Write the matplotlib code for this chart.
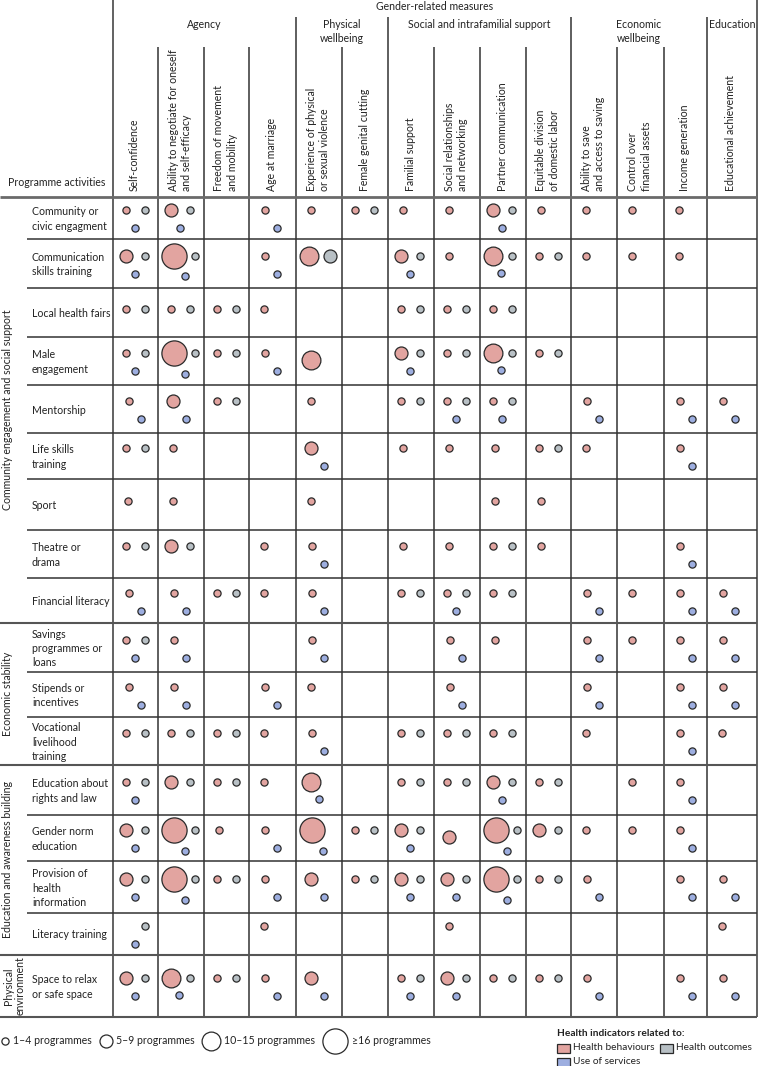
import matplotlib
matplotlib.use('Agg')
import matplotlib.pyplot as plt
from matplotlib.patches import Rectangle

plt.rcParams['font.family'] = ['Lato', 'DejaVu Sans']

# ------------------------------------------------------------------
# Data: size level per cell (0 none, 1 = 1-4, 2 = 5-9, 3 = 10-15, 4 = >=16)
# ------------------------------------------------------------------
MEASURES = [
    'Self-confidence',
    'Ability to negotiate for oneself\nand self-efficacy',
    'Freedom of movement\nand mobility',
    'Age at marriage',
    'Experience of physical\nor sexual violence',
    'Female genital cutting',
    'Familial support',
    'Social relationships\nand networking',
    'Partner communication',
    'Equitable division\nof domestic labor',
    'Ability to save\nand access to saving',
    'Control over\nfinancial assets',
    'Income generation',
    'Educational achievement',
]
MEASURE_GROUPS = ['Agency', 'Physical\nwellbeing', 'Social and intrafamilial support',
                  'Economic\nwellbeing', 'Education']
MEASURE_GROUP_SIZES = [4, 2, 4, 3, 1]

ACTIVITIES = [
    'Community or\ncivic engagment',
    'Communication\nskills training',
    'Local health fairs',
    'Male\nengagement',
    'Mentorship',
    'Life skills\ntraining',
    'Sport',
    'Theatre or\ndrama',
    'Financial literacy',
    'Savings\nprogrammes or\nloans',
    'Stipends or\nincentives',
    'Vocational\nlivelihood\ntraining',
    'Education about\nrights and law',
    'Gender norm\neducation',
    'Provision of\nhealth\ninformation',
    'Literacy training',
    'Space to relax\nor safe space',
]
ACTIVITY_GROUPS = ['Community engagement and social support', 'Economic stability',
                   'Education and awareness building', 'Physical\nenvironment']
ACTIVITY_GROUP_SIZES = [9, 3, 4, 1]

# Health behaviours
BEHAVIOURS = [
    [1, 2, 0, 1, 1, 1, 1, 1, 2, 1, 1, 1, 1, 0],
    [2, 4, 0, 1, 3, 0, 2, 1, 3, 1, 1, 1, 1, 0],
    [1, 1, 1, 1, 0, 0, 1, 1, 1, 0, 0, 0, 0, 0],
    [1, 4, 1, 1, 3, 0, 2, 1, 3, 1, 0, 0, 0, 0],
    [1, 2, 1, 0, 1, 0, 1, 1, 1, 0, 1, 0, 1, 1],
    [1, 1, 0, 0, 2, 0, 1, 1, 1, 1, 1, 0, 1, 0],
    [1, 1, 0, 0, 1, 0, 0, 0, 1, 1, 0, 0, 0, 0],
    [1, 2, 0, 1, 1, 0, 1, 1, 1, 1, 0, 0, 1, 0],
    [1, 1, 1, 1, 1, 0, 1, 1, 1, 0, 1, 1, 1, 1],
    [1, 1, 0, 0, 1, 0, 0, 1, 1, 0, 1, 1, 1, 1],
    [1, 1, 0, 1, 1, 0, 0, 1, 0, 0, 1, 0, 1, 1],
    [1, 1, 1, 1, 1, 0, 1, 1, 1, 0, 1, 0, 1, 1],
    [1, 2, 1, 1, 3, 0, 1, 1, 2, 1, 0, 1, 1, 0],
    [2, 4, 1, 1, 4, 1, 2, 2, 4, 2, 1, 1, 1, 0],
    [2, 4, 1, 1, 2, 1, 2, 2, 4, 1, 1, 0, 1, 1],
    [0, 0, 0, 1, 0, 0, 0, 1, 0, 0, 0, 0, 0, 1],
    [2, 3, 1, 1, 2, 0, 1, 2, 1, 1, 1, 0, 1, 1],
]
# Health outcomes
OUTCOMES = [
    [1, 1, 0, 0, 0, 1, 0, 0, 1, 0, 0, 0, 0, 0],
    [1, 1, 0, 0, 2, 0, 1, 0, 1, 1, 0, 0, 0, 0],
    [1, 1, 1, 0, 0, 0, 1, 1, 1, 0, 0, 0, 0, 0],
    [1, 1, 1, 0, 0, 0, 1, 1, 1, 1, 0, 0, 0, 0],
    [0, 0, 1, 0, 0, 0, 1, 1, 1, 0, 0, 0, 0, 0],
    [1, 0, 0, 0, 0, 0, 0, 0, 0, 1, 0, 0, 0, 0],
    [0, 0, 0, 0, 0, 0, 0, 0, 0, 0, 0, 0, 0, 0],
    [1, 1, 0, 0, 0, 0, 0, 0, 1, 0, 0, 0, 0, 0],
    [0, 0, 1, 0, 0, 0, 1, 1, 1, 0, 0, 0, 0, 0],
    [1, 0, 0, 0, 0, 0, 0, 0, 0, 0, 0, 0, 0, 0],
    [0, 0, 0, 0, 0, 0, 0, 0, 0, 0, 0, 0, 0, 0],
    [1, 1, 1, 0, 0, 0, 1, 1, 1, 0, 0, 0, 0, 0],
    [1, 1, 1, 0, 0, 0, 1, 1, 1, 1, 0, 0, 0, 0],
    [1, 1, 0, 0, 0, 1, 1, 0, 1, 1, 0, 0, 0, 0],
    [1, 1, 1, 0, 0, 1, 1, 1, 1, 1, 0, 0, 0, 0],
    [1, 0, 0, 0, 0, 0, 0, 0, 0, 0, 0, 0, 0, 0],
    [1, 1, 1, 0, 0, 0, 1, 1, 1, 1, 0, 0, 0, 0],
]
# Use of services
SERVICES = [
    [1, 1, 0, 1, 0, 0, 0, 0, 1, 0, 0, 0, 0, 0],
    [1, 1, 0, 1, 0, 0, 1, 0, 1, 0, 0, 0, 0, 0],
    [0, 0, 0, 0, 0, 0, 0, 0, 0, 0, 0, 0, 0, 0],
    [1, 1, 0, 1, 0, 0, 1, 0, 1, 0, 0, 0, 0, 0],
    [1, 1, 0, 0, 0, 0, 0, 1, 1, 0, 1, 0, 1, 1],
    [0, 0, 0, 0, 1, 0, 0, 0, 0, 0, 0, 0, 1, 0],
    [0, 0, 0, 0, 0, 0, 0, 0, 0, 0, 0, 0, 0, 0],
    [0, 0, 0, 0, 1, 0, 0, 0, 0, 0, 0, 0, 1, 0],
    [1, 1, 0, 0, 1, 0, 0, 1, 0, 0, 1, 0, 1, 1],
    [1, 1, 0, 0, 1, 0, 0, 1, 0, 0, 1, 0, 1, 1],
    [1, 1, 0, 1, 0, 0, 0, 1, 0, 0, 1, 0, 1, 1],
    [0, 0, 0, 0, 1, 0, 0, 0, 0, 0, 0, 0, 1, 0],
    [1, 0, 0, 0, 1, 0, 0, 0, 1, 0, 0, 0, 1, 0],
    [1, 1, 0, 1, 1, 0, 1, 0, 1, 0, 0, 0, 1, 0],
    [1, 1, 0, 1, 1, 0, 1, 1, 1, 0, 1, 0, 1, 1],
    [1, 0, 0, 0, 0, 0, 0, 0, 0, 0, 0, 0, 0, 0],
    [1, 1, 0, 1, 1, 0, 1, 1, 0, 0, 1, 0, 1, 1],
]

SIZE_LABELS = ['1–4 programmes', '5–9 programmes', '10–15 programmes', '≥16 programmes']
INDICATOR_LABELS = ['Health behaviours', 'Health outcomes', 'Use of services']

# ------------------------------------------------------------------
# Layout (pixel units, figure is 758 x 1066)
# ------------------------------------------------------------------
COL_EDGES = [113, 158, 204, 249, 296, 342, 388, 434, 480, 526, 571, 617, 664, 707, 757]
ROW_EDGES = [197, 239, 288, 337, 385, 433, 479, 530, 578, 623, 672, 717, 765, 815,
             861, 913, 955, 1017]
RADIUS = {0: 0, 1: 3.6, 2: 6.5, 3: 9.4, 4: 12.6}
C_RED, C_GRAY, C_BLUE = '#e2a4a0', '#b8c0c5', '#9daee0'
EDGE = '#2a2a2a'
TXT = '#222222'
FS = 7.6


def size_pt(r):
    # radius in px -> scatter area in pt^2 (dpi 100)
    return (2 * r * 0.72) ** 2


def cell_layout(L, T, H, r, g, b, row_blue):
    cy = T + H / 2
    top = cy - 8 if row_blue else cy - 4
    bot = cy + 10
    pts = []
    rx = None
    if r:
        rr = RADIUS[r]
        if g:
            rx = L + max(13, rr + 3.5)
        elif b:
            rx = L + (16 if r == 1 else max(15, rr + 3))
        else:
            rx = L + max(15, rr + 4)
        ry = top
        if not g and not b and r >= 2:
            ry = cy - 1
        pts.append((rx, ry, r, C_RED))
    if g:
        gx = L + 32
        if r:
            gx = max(gx, rx + RADIUS[r] + 5 + RADIUS[g])
        pts.append((gx, top, g, C_GRAY))
    if b:
        if r >= 3:
            bx = rx + RADIUS[r] * 0.9
            by = top + RADIUS[r] + 8
        else:
            bx = L + (22 if g else 28)
            by = bot
        pts.append((bx, by, b, C_BLUE))
    return pts


fig = plt.figure(figsize=(7.58, 10.66), dpi=100)
ax = fig.add_axes([0, 0, 1, 1])
ax.set_xlim(0, 758)
ax.set_ylim(1066, 0)
ax.axis('off')

right = COL_EDGES[-1]
bottom = ROW_EDGES[-1]

# --- grid lines
group_cols = [0]
for n in MEASURE_GROUP_SIZES:
    group_cols.append(group_cols[-1] + n)
group_rows = [0]
for n in ACTIVITY_GROUP_SIZES:
    group_rows.append(group_rows[-1] + n)

for i, x in enumerate(COL_EDGES):
    if i == 0 or i == len(COL_EDGES) - 1:
        ax.vlines(x, 0, bottom, color='#555555', lw=1.3)
    elif i in group_cols:
        ax.vlines(x, 17, bottom, color='#333333', lw=1.1)
    else:
        ax.vlines(x, 47, bottom, color='#333333', lw=1.1)

ax.hlines(ROW_EDGES[0], 0, right, color='#6a6a6a', lw=2)
for i, y in enumerate(ROW_EDGES[1:], start=1):
    if i in group_rows:
        ax.hlines(y, 0, right, color='#555555', lw=1.5)
    else:
        ax.hlines(y, 27, right, color='#333333', lw=1.1)

# --- header text
ax.text((COL_EDGES[0] + right) / 2, 6, 'Gender-related measures', ha='center', va='center',
        fontsize=FS, color=TXT)
for k, name in enumerate(MEASURE_GROUPS):
    x0, x1 = COL_EDGES[group_cols[k]], COL_EDGES[group_cols[k + 1]]
    ax.text((x0 + x1) / 2, 19, name, ha='center', va='top', fontsize=FS,
            color=TXT, linespacing=1.3)
for j, name in enumerate(MEASURES):
    xc = (COL_EDGES[j] + COL_EDGES[j + 1]) / 2 - 1
    ax.text(xc, 191, name, rotation=90, ha='center', va='bottom', fontsize=FS,
            multialignment='left', color=TXT, linespacing=1.25)
ax.text(8, 183, 'Programme activities', ha='left', va='center', fontsize=FS, color=TXT)

# --- row text
for i, name in enumerate(ACTIVITIES):
    yc = (ROW_EDGES[i] + ROW_EDGES[i + 1]) / 2 + 1
    ax.text(32, yc, name, ha='left', va='center', fontsize=FS, color=TXT,
            linespacing=1.35)
for k, name in enumerate(ACTIVITY_GROUPS):
    y0, y1 = ROW_EDGES[group_rows[k]], ROW_EDGES[group_rows[k + 1]]
    xg = 14 if '\n' in name else 8
    ax.text(xg, (y0 + y1) / 2, name, rotation=90, ha='center', va='center', fontsize=FS,
            color=TXT, linespacing=1.1)

# --- bubbles
for i in range(len(ACTIVITIES)):
    T, H = ROW_EDGES[i], ROW_EDGES[i + 1] - ROW_EDGES[i]
    row_blue = any(SERVICES[i])
    for j in range(len(MEASURES)):
        L = COL_EDGES[j]
        for x, y, lvl, col in cell_layout(L, T, H, BEHAVIOURS[i][j], OUTCOMES[i][j],
                                          SERVICES[i][j], row_blue):
            ax.scatter(x, y, s=size_pt(RADIUS[lvl]), color=col, edgecolor=EDGE,
                       linewidth=0.9, zorder=5)

# --- size legend
leg_x = [5, 106, 211, 335]
for k, lab in enumerate(SIZE_LABELS):
    r = RADIUS[k + 1]
    ax.scatter(leg_x[k], 1041, s=size_pt(r), color='white', edgecolor=EDGE,
               linewidth=0.9, zorder=5)
    ax.text(leg_x[k] + r + 4, 1041, lab, ha='left', va='center', fontsize=FS, color=TXT)

# --- colour legend
LFS = 7.3
ax.text(557, 1033, 'Health indicators related to:', ha='left', va='center', fontsize=LFS,
        fontweight='bold', color=TXT)
sw_pos = [(557, 1048), (660, 1048), (557, 1062)]
for (sx, sy), lab, col in zip(sw_pos, INDICATOR_LABELS, [C_RED, C_GRAY, C_BLUE]):
    ax.add_patch(Rectangle((sx, sy - 4.5), 13, 9, facecolor=col, edgecolor=EDGE, lw=0.9))
    ax.text(sx + 16, sy, lab, ha='left', va='center', fontsize=LFS, color=TXT)

fig.savefig('out.png', dpi=100)
